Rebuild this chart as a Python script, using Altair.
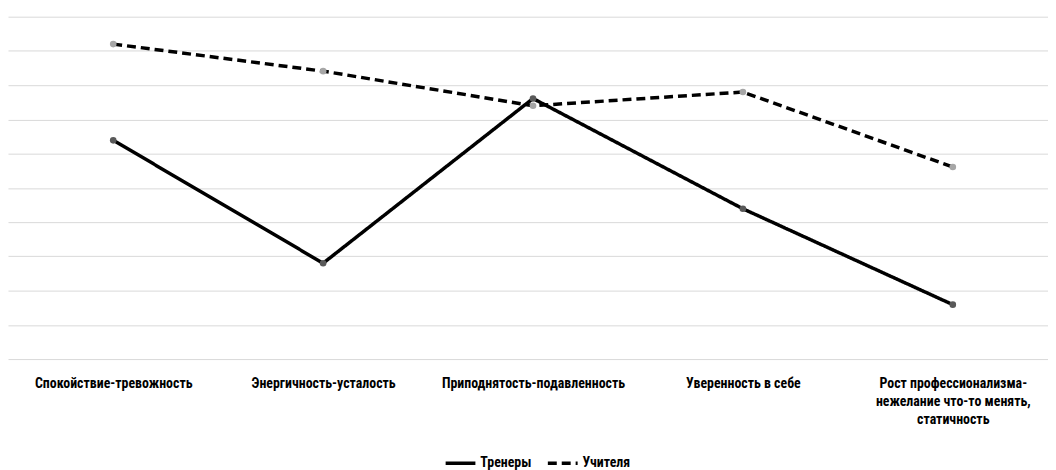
import altair as alt
import pandas as pd

categories = [
    "Спокойствие-тревожность",
    "Энергичность-усталость",
    "Приподнятость-подавленность",
    "Уверенность в себе",
    "Рост профессионализма-|нежелание что-то менять,|статичность",
]
series_names = ["Тренеры", "Учителя"]
trainers = [6.39, 2.80, 7.61, 4.39, 1.59]
teachers = [9.20, 8.41, 7.40, 7.80, 5.61]

rows = []
for c, v in zip(categories, trainers):
    rows.append({"cat": c, "series": series_names[0], "value": v})
for c, v in zip(categories, teachers):
    rows.append({"cat": c, "series": series_names[1], "value": v})
df = pd.DataFrame(rows)

FONT = "Liberation Sans Narrow, Roboto Condensed, Roboto, sans-serif"

x_enc = alt.X(
    "cat:N",
    sort=categories,
    scale=alt.Scale(type="point", padding=0.4775, align=0.525),
    axis=alt.Axis(
        title=None,
        labelAngle=0,
        ticks=False,
        domain=False,
        grid=False,
        labelExpr="split(datum.label, '|')",
        labelFont=FONT,
        labelFontSize=14,
        labelFontWeight="bold",
        labelColor="#000000",
        labelPadding=18,
        labelLineHeight=18,
        labelLimit=300,
    ),
)
y_enc = alt.Y(
    "value:Q",
    scale=alt.Scale(domain=[0, 10], nice=False),
    axis=alt.Axis(
        title=None,
        labels=False,
        ticks=False,
        domain=False,
        values=list(range(0, 11)),
        grid=True,
        gridColor="#d9d9d9",
        gridWidth=1,
    ),
)

lines = alt.Chart(df).mark_line(color="black", strokeWidth=3.5).encode(
    x=x_enc,
    y=y_enc,
    strokeDash=alt.StrokeDash(
        "series:N",
        sort=series_names,
        scale=alt.Scale(domain=series_names, range=[[1, 0], [9, 5]]),
        legend=alt.Legend(
            title=None,
            orient="none",
            legendX=439,
            legendY=433,
            direction="horizontal",
            symbolType="stroke",
            symbolStrokeColor="black",
            symbolStrokeWidth=3.5,
            symbolSize=900,
            labelFont=FONT,
            labelFontSize=14,
            labelFontWeight="bold",
            labelColor="#000000",
            labelOffset=3,
            columnPadding=9,
        ),
    ),
)

points = alt.Chart(df).mark_point(filled=True, size=45, opacity=1).encode(
    x=x_enc,
    y=y_enc,
    color=alt.Color(
        "series:N",
        sort=series_names,
        scale=alt.Scale(domain=series_names, range=["#595959", "#a6a6a6"]),
        legend=None,
    ),
)

chart = (
    alt.layer(lines, points)
    .properties(
        width=1048,
        height=345,
        autosize=alt.AutoSizeParams(type="none"),
        padding={"left": 0, "right": 0, "top": 7, "bottom": 110},
        background="white",
    )
    .configure_view(stroke=None)
)

chart.save("out.html", embed_options={"renderer": "svg", "actions": False})
